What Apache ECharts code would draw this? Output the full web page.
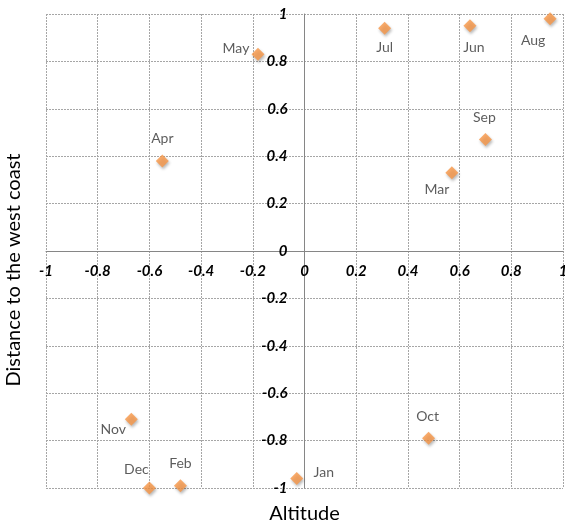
<!DOCTYPE html>
<html>
<head>
<meta charset="utf-8">
<script src="https://cdn.jsdelivr.net/npm/echarts@6/dist/echarts.min.js"></script>
<style>
html,body{margin:0;padding:0;background:#fff;}
#chart{width:565px;height:527px;}
</style>
</head>
<body>
<div id="chart"></div>
<script>
const months = ['Jan','Feb','Mar','Apr','May','Jun','Jul','Aug','Sep','Oct','Nov','Dec'];
const altitude = [-0.03,-0.48,0.57,-0.55,-0.18,0.64,0.31,0.95,0.70,0.48,-0.67,-0.60];
const distance = [-0.96,-0.99,0.33,0.38,0.83,0.95,0.94,0.98,0.47,-0.79,-0.71,-1.00];
const xTickLabels = ['-1','-0.8','-0.6','-0.4','-0.2','0','0.2','0.4','0.6','0.8','1'];
const yTickLabels = ['-1','-0.8','-0.6','-0.4','-0.2','0','0.2','0.4','0.6','0.8','1'];
const xAxisTitle = 'Altitude';
const yAxisTitle = 'Distance to the west coast';
// label offsets (layout only), relative to marker centre
const labelOffsets = {
  Jan:[27,-6], Feb:[0,-22], Mar:[-15,17], Apr:[0,-22], May:[-22,-6], Jun:[4,22],
  Jul:[0,19], Aug:[-17,22], Sep:[-1,-22], Oct:[-1,-22], Nov:[-18,10], Dec:[-13,-19]
};

const W = 565, H = 527;
const G = {left:46, right:2, top:14, bottom:39};
const tickIndex = v => Math.round((v + 1) / 0.2);
const chart = echarts.init(document.getElementById('chart'), null, {renderer:'canvas'});
const tickFont = {color:'#000', fontFamily:'Lato', fontSize:15, fontWeight:'bold', fontStyle:'italic'};
const gridLine = {show:true, lineStyle:{color:'#a6a6a6', type:[2,1], width:1}};
const plotW = W - G.left - G.right, plotH = H - G.top - G.bottom;

chart.setOption({
  animation:false,
  backgroundColor:'#fff',
  grid:Object.assign({containLabel:false, outerBoundsMode:'none'}, G),
  xAxis:{
    type:'value', min:-1, max:1, interval:0.2, position:'bottom',
    offset:-plotH/2,
    axisLine:{show:true, onZero:false, lineStyle:{color:'#868686', width:1}},
    axisTick:{show:false},
    splitLine:gridLine,
    axisLabel:Object.assign({margin:13, formatter:v => xTickLabels[tickIndex(v)]}, tickFont)
  },
  yAxis:{
    type:'value', min:-1, max:1, interval:0.2, position:'left',
    offset:-plotW/2,
    axisLine:{show:true, onZero:false, lineStyle:{color:'#868686', width:1}},
    axisTick:{show:false},
    splitLine:gridLine,
    axisLabel:Object.assign({margin:17, formatter:v => yTickLabels[tickIndex(v)]}, tickFont)
  },
  graphic:[
    {type:'text', x:G.left + plotW/2, y:504, style:{text:xAxisTitle, font:'20px Lato', fill:'#000', align:'center', verticalAlign:'top'}, z:10},
    {type:'text', x:4, y:270, rotation:Math.PI/2, style:{text:yAxisTitle, font:'20px Lato', fill:'#000', align:'center', verticalAlign:'top'}, z:10}
  ],
  series:[{
    type:'scatter',
    symbol:'diamond',
    symbolSize:13,
    itemStyle:{color:'#F79646', shadowColor:'rgba(0,0,0,0.35)', shadowBlur:3, shadowOffsetX:1, shadowOffsetY:2},
    data: months.map((m,i)=>({
      name:m, value:[altitude[i], distance[i]],
      label:{show:true, position:'inside', offset:labelOffsets[m], formatter:m,
             color:'#333', fontFamily:'Lato', fontSize:14}
    }))
  }]
});
</script>
</body>
</html>
